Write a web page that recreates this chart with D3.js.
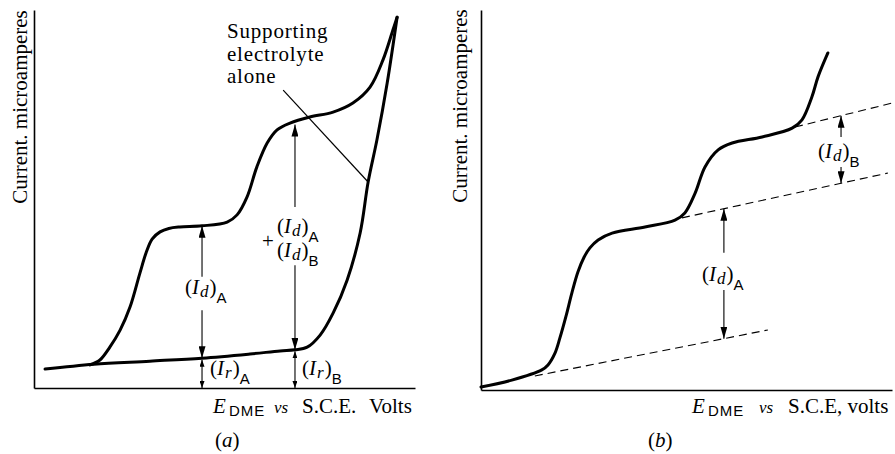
<!DOCTYPE html>
<html><head><meta charset="utf-8">
<script src="https://cdn.jsdelivr.net/npm/d3@7"></script>
<style>
body{margin:0;background:#fff}
svg{display:block}
text{font-family:"Liberation Serif","Times New Roman",serif;font-size:21px;fill:#000}
</style>
</head><body>
<script>
// ---------- Data (arbitrary units: x = potential, y = current, 0..100) ----------
// Panel (a): residual current of supporting electrolyte alone
const aResidualX = [2.9, 15.7, 30.4, 44.1, 56.7, 64.6, 68.5, 71.7, 75.1, 78.5, 82.2, 85.6, 87.7, 90.0, 92.7, 95.3];
const aResidualY = [5.0, 6.3, 7.1, 7.9, 9.0, 9.8, 10.1, 10.8, 14.0, 19.8, 28.6, 41.0, 54.5, 65.6, 80.7, 98.1];
// Panel (a): two-step polarographic wave (A then B)
const aWaveX = [14.7, 17.3, 19.9, 22.6, 25.2, 27.8, 29.4, 31.0, 33.1, 35.4, 38.3, 44.1, 50.7, 53.3, 55.9, 58.5, 61.2, 63.8, 67.2, 72.4, 78.5, 83.7, 88.2, 91.6, 94.2, 95.3];
const aWaveY = [6.1, 7.4, 10.8, 15.3, 21.4, 30.4, 35.7, 39.4, 41.3, 42.2, 42.6, 42.9, 43.9, 45.8, 50.5, 58.5, 64.8, 68.3, 70.1, 71.7, 73.0, 75.4, 79.6, 86.8, 94.7, 98.1];
// Panel (a): measurement positions
const aMeasureX = [44.1, 68.5];          // potentials where (I_d)A and (I_d)A+(I_d)B are read
const aPointerX = [65.4, 87.7];          // "Supporting electrolyte alone" pointer
const aPointerY = [78.8, 54.5];

// Panel (b): two-step wave
const bWaveX = [0, 7.5, 14.8, 16.3, 18.0, 19.2, 20.7, 22.1, 23.6, 25.1, 26.5, 28.5, 31.9, 39.9, 47.2, 49.6, 52.1, 54.5, 57.7, 61.1, 68.4, 75.7, 78.1, 80.5, 82.0, 84.4];
const bWaveY = [0.8, 2.6, 5.3, 6.6, 9.7, 13.7, 19.5, 25.5, 31.1, 35.0, 37.4, 39.5, 41.3, 42.9, 44.7, 46.6, 51.8, 58.7, 63.2, 65.0, 66.6, 68.9, 71.1, 77.1, 82.4, 88.7];
// Panel (b): extrapolated (dashed) baselines
const bDash1X = [13.1, 69.8], bDash1Y = [3.7, 15.8];
const bDash2X = [48.9, 99.0], bDash2Y = [45.3, 57.1];
const bDash3X = [76.4, 100],  bDash3Y = [69.2, 75.5];
const bMeasureX = [59.1, 87.6];

// ---------- Drawing ----------
const W = 895, H = 454;
const svg = d3.select("body").append("svg").attr("width", W).attr("height", H);
const SANS = "'Liberation Sans',Arial,sans-serif";

const defs = svg.append("defs");
function marker(id, len, wid) {
  defs.append("marker").attr("id", id)
    .attr("viewBox", `0 0 ${len} ${wid}`).attr("refX", len).attr("refY", wid / 2)
    .attr("markerWidth", len).attr("markerHeight", wid)
    .attr("markerUnits", "userSpaceOnUse").attr("orient", "auto-start-reverse")
    .append("path").attr("d", `M0,0L${len},${wid / 2}L0,${wid}Z`).attr("fill", "#000");
}
marker("ah", 12, 7);
marker("ahs", 7, 5);

const xA = d3.scaleLinear([0, 100], [34, 415]);
const yA = d3.scaleLinear([0, 100], [388, 10]);
const xB = d3.scaleLinear([0, 100], [481, 892]);
const yB = d3.scaleLinear([0, 100], [390, 10]);

function axes(x, y) {
  svg.append("g").attr("transform", `translate(0,${y(0)})`)
    .call(d3.axisBottom(x).tickValues([]).tickSizeOuter(0))
    .call(g => g.select(".domain").attr("stroke-width", 1.6));
  svg.append("g").attr("transform", `translate(${x(0)},0)`)
    .call(d3.axisLeft(y).tickValues([]).tickSizeOuter(0))
    .call(g => g.select(".domain").attr("stroke-width", 1.6));
}
axes(xA, yA);
axes(xB, yB);

function curve(xs, ys, x, y, width, dash) {
  const pts = xs.map((v, i) => [v, ys[i]]);
  const c = dash ? d3.curveLinear : d3.curveCatmullRom.alpha(0.5);
  const p = svg.append("path")
    .attr("d", d3.line().x(d => x(d[0])).y(d => y(d[1])).curve(c)(pts))
    .attr("fill", "none").attr("stroke", "#000").attr("stroke-width", width)
    .attr("stroke-linecap", "round").attr("stroke-linejoin", "round");
  if (dash) p.attr("stroke-dasharray", dash).attr("stroke-linecap", "butt");
  return p;
}

function seg(x1, y1, x2, y2, opts = {}) {
  const l = svg.append("line").attr("x1", x1).attr("y1", y1).attr("x2", x2).attr("y2", y2)
    .attr("stroke", "#000").attr("stroke-width", opts.w || 1.1);
  if (opts.end) l.attr("marker-end", `url(#${opts.end})`);
  return l;
}

function interp(xs, ys, v) { return d3.scaleLinear(xs, ys)(v); }

// label like (I_d)_A
function ilabel(px, py, letter, sub) {
  const t = svg.append("text").attr("x", px).attr("y", py);
  t.append("tspan").text("(");
  t.append("tspan").attr("font-style", "italic").text("I");
  t.append("tspan").attr("font-style", "italic").attr("font-size", "17px").attr("dx", 1).attr("dy", 3).text(letter);
  t.append("tspan").attr("dy", -3).attr("dx", 1).text(")");
  t.append("tspan").attr("font-family", SANS).attr("font-size", "15px").attr("dy", 9).text(sub);
  return t;
}

function ylabel(px, py) {
  svg.append("text").attr("transform", `translate(${px},${py}) rotate(-90)`)
    .attr("text-anchor", "middle").text("Current. microamperes");
}

function xlabel(py, xs, rest) {
  const t = svg.append("text").attr("y", py);
  t.append("tspan").attr("x", xs[0]).attr("font-style", "italic").text("E");
  t.append("tspan").attr("x", xs[1]).attr("font-family", SANS).attr("font-size", "15px")
    .attr("dy", 3).attr("letter-spacing", 1).text("DME");
  t.append("tspan").attr("x", xs[2]).attr("font-style", "italic").attr("font-size", "17px").attr("dy", -3).text("vs");
  rest.forEach((r, i) => t.append("tspan").attr("x", xs[3 + i]).text(r));
}

function panelTag(px, py, letter) {
  const t = svg.append("text").attr("x", px).attr("y", py);
  t.append("tspan").text("(");
  t.append("tspan").attr("font-style", "italic").text(letter);
  t.append("tspan").text(")");
}

// ----- Panel (a) -----
curve(aResidualX, aResidualY, xA, yA, 3);
curve(aWaveX, aWaveY, xA, yA, 3);
seg(xA(aPointerX[0]), yA(aPointerY[0]), xA(aPointerX[1]), yA(aPointerY[1]), { w: 1.2 });

{
  const xv = aMeasureX[0];
  const top = interp(aWaveX, aWaveY, xv), bot = interp(aResidualX, aResidualY, xv);
  seg(xA(xv), yA(29.4), xA(xv), yA(top), { end: "ah" });
  seg(xA(xv), yA(20.6), xA(xv), yA(bot), { end: "ah" });
  seg(xA(xv), yA(3.2), xA(xv), yA(bot) + 1.5, { end: "ahs" });
  seg(xA(xv), yA(3.2), xA(xv), yA(0), { end: "ahs" });
}
{
  const xv = aMeasureX[1];
  const top = interp(aWaveX, aWaveY, xv) - 0.8, bot = interp(aResidualX, aResidualY, xv);
  seg(xA(xv), yA(47.9), xA(xv), yA(top), { end: "ah" });
  seg(xA(xv), yA(32.5), xA(xv), yA(bot), { end: "ah" });
  seg(xA(xv), yA(4.5), xA(xv), yA(bot) + 1.5, { end: "ahs" });
  seg(xA(xv), yA(4.5), xA(xv), yA(0), { end: "ahs" });
}
ilabel(185, 294, "d", "A");
ilabel(277, 233, "d", "A");
svg.append("text").attr("x", 262).attr("y", 248).attr("font-size", "18px").text("+");
ilabel(277, 257, "d", "B");
ilabel(210, 375, "r", "A");
ilabel(302, 375, "r", "B");

const sup = svg.append("text").attr("x", 227).attr("y", 38).attr("font-size", "20.5px").attr("letter-spacing", 0.8);
["Supporting", "electrolyte", "alone"].forEach((s, i) =>
  sup.append("tspan").attr("x", 227).attr("dy", i ? 22.5 : 0).text(s));

ylabel(27, 107);
xlabel(413, [213, 229, 274, 302, 369], ["S.C.E.", "Volts"]);
panelTag(215, 447, "a");

// ----- Panel (b) -----
curve(bDash1X, bDash1Y, xB, yB, 1.1, "8,5");
curve(bDash2X, bDash2Y, xB, yB, 1.1, "8,5");
curve(bDash3X, bDash3Y, xB, yB, 1.1, "8,5");
curve(bWaveX, bWaveY, xB, yB, 3);

{
  const xv = bMeasureX[0];
  const top = interp(bDash2X, bDash2Y, xv), bot = interp(bDash1X, bDash1Y, xv);
  seg(xB(xv), yB(36.1), xB(xv), yB(top), { end: "ah" });
  seg(xB(xv), yB(26.3), xB(xv), yB(bot), { end: "ah" });
}
{
  const xv = bMeasureX[1];
  const top = interp(bDash3X, bDash3Y, xv), bot = interp(bDash2X, bDash2Y, xv);
  seg(xB(xv), yB(66.6), xB(xv), yB(top), { end: "ah" });
  seg(xB(xv), yB(58.7), xB(xv), yB(bot), { end: "ah" });
}
ilabel(702, 281, "d", "A");
ilabel(818, 158, "d", "B");

ylabel(467, 106);
xlabel(413, [692, 708, 759, 788], ["S.C.E, volts"]);
panelTag(648, 447, "b");
</script>
</body></html>
